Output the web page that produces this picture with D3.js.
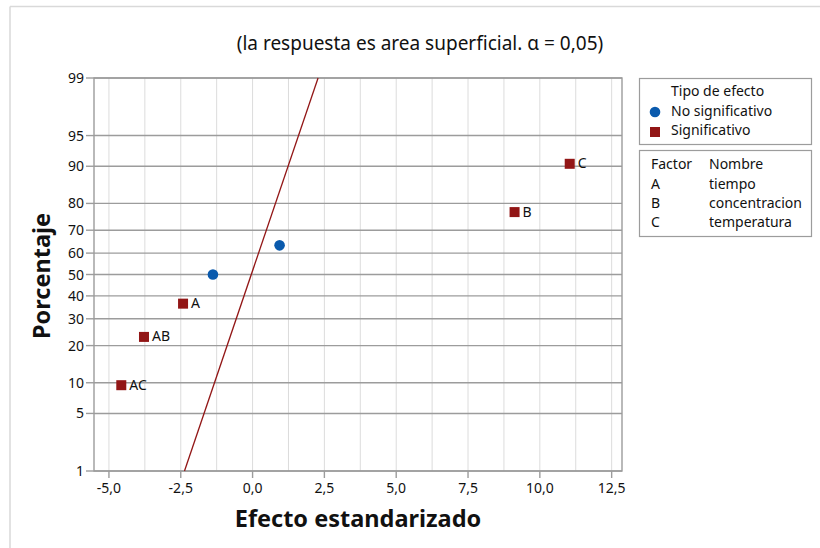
<!DOCTYPE html>
<html lang="es">
<head>
<meta charset="utf-8">
<title>Gráfica normal de efectos estandarizados</title>
<script src="https://cdn.jsdelivr.net/npm/d3@7"></script>
<style>
  body { margin: 0; background: #fff; }
  svg text { font-family: "Noto Sans", "Open Sans", sans-serif; fill: #111; }
</style>
</head>
<body>
<div id="chart"></div>
<script>
// data
const termLabels   = ["AC", "AB", "A", "", "", "B", "C"];
const effectValues = [-4.57, -3.78, -2.42, -1.38, 0.94, 9.12, 11.04];
const percentValues = [9.5, 23.0, 36.5, 50.0, 63.5, 77.0, 90.5];
const isSignificant = [true, true, true, false, false, true, true];

// fitted reference line (two ends)
const lineEffects  = [-2.37, 2.28];
const linePercents = [1, 99];

const xTicks = [-5, -2.5, 0, 2.5, 5, 7.5, 10, 12.5];
const xGrid  = [-5, -3.75, -2.5, -1.25, 0, 1.25, 2.5, 3.75, 5, 6.25, 7.5, 8.75, 10, 11.25, 12.5];
const yTicks = [1, 5, 10, 20, 30, 40, 50, 60, 70, 80, 90, 95, 99];

const factorCodes = ["A", "B", "C"];
const factorNames = ["tiempo", "concentracion", "temperatura"];

const red = "#921616", blue = "#0a5aad";

// inverse normal cdf (Acklam)
function probit(p) {
  const a = [-39.69683028665376, 220.9460984245205, -275.9285104469687, 138.3577518672690, -30.66479806614716, 2.506628277459239];
  const b = [-54.47609879822406, 161.5858368580409, -155.6989798598866, 66.80131188771972, -13.28068155288572];
  const c = [-0.007784894002430293, -0.3223964580411365, -2.400758277161838, -2.549732539343734, 4.374664141464968, 2.938163982698783];
  const d = [0.007784695709041462, 0.3224671290700398, 2.445134137142996, 3.754408661907416];
  const pl = 0.02425;
  let q, r;
  if (p < pl) {
    q = Math.sqrt(-2 * Math.log(p));
    return (((((c[0]*q+c[1])*q+c[2])*q+c[3])*q+c[4])*q+c[5]) / ((((d[0]*q+d[1])*q+d[2])*q+d[3])*q+1);
  }
  if (p > 1 - pl) {
    q = Math.sqrt(-2 * Math.log(1 - p));
    return -(((((c[0]*q+c[1])*q+c[2])*q+c[3])*q+c[4])*q+c[5]) / ((((d[0]*q+d[1])*q+d[2])*q+d[3])*q+1);
  }
  q = p - 0.5; r = q * q;
  return (((((a[0]*r+a[1])*r+a[2])*r+a[3])*r+a[4])*r+a[5])*q / (((((b[0]*r+b[1])*r+b[2])*r+b[3])*r+b[4])*r+1);
}

const W = 820, H = 548;
const plot = { left: 94, right: 622, top: 78, bottom: 471 };

const svg = d3.select("#chart").append("svg")
  .attr("width", W).attr("height", H);

// outer frame pieces visible in the crop
svg.append("line").attr("x1", 10).attr("x2", W).attr("y1", 6.5).attr("y2", 6.5)
  .attr("stroke", "#d9d9d9").attr("stroke-width", 1.5);
svg.append("line").attr("x1", 10).attr("x2", 10).attr("y1", 6.5).attr("y2", H)
  .attr("stroke", "#d9d9d9").attr("stroke-width", 1.5);

const x = d3.scaleLinear().domain([-5.52, 12.86]).range([plot.left, plot.right]);
const zScale = d3.scaleLinear().domain([probit(0.01), probit(0.99)]).range([plot.bottom, plot.top]);
const y = p => zScale(probit(p / 100));

// vertical light grid
svg.append("g").selectAll("line").data(xGrid).join("line")
  .attr("x1", d => x(d)).attr("x2", d => x(d))
  .attr("y1", plot.top).attr("y2", plot.bottom)
  .attr("stroke", "#dcdcdc").attr("stroke-width", 1);

// horizontal grid at probability ticks
svg.append("g").selectAll("line").data(yTicks).join("line")
  .attr("x1", plot.left).attr("x2", plot.right)
  .attr("y1", d => y(d)).attr("y2", d => y(d))
  .attr("stroke", "#9c9c9c").attr("stroke-width", 1.4);

// frame
svg.append("rect")
  .attr("x", plot.left).attr("y", plot.top)
  .attr("width", plot.right - plot.left).attr("height", plot.bottom - plot.top)
  .attr("fill", "none").attr("stroke", "#9c9c9c").attr("stroke-width", 1.4);

// y axis ticks & labels
const yAxis = svg.append("g");
yAxis.selectAll("line").data(yTicks).join("line")
  .attr("x1", plot.left - 8).attr("x2", plot.left)
  .attr("y1", d => y(d)).attr("y2", d => y(d))
  .attr("stroke", "#9c9c9c").attr("stroke-width", 1.4);
yAxis.selectAll("text").data(yTicks).join("text")
  .attr("x", plot.left - 10).attr("y", d => y(d) + 5)
  .attr("text-anchor", "end").attr("font-size", 14)
  .text(d => d);

// x axis ticks & labels
const fmt = d => d3.format(".1f")(d).replace(".", ",").replace("−", "-");
const xAxis = svg.append("g");
xAxis.selectAll("line").data(xTicks).join("line")
  .attr("x1", d => x(d)).attr("x2", d => x(d))
  .attr("y1", plot.bottom).attr("y2", plot.bottom + 7)
  .attr("stroke", "#9c9c9c").attr("stroke-width", 1.4);
xAxis.selectAll("text").data(xTicks).join("text")
  .attr("x", d => x(d)).attr("y", 493)
  .attr("text-anchor", "middle").attr("font-size", 14)
  .text(fmt);

// reference line
svg.append("line")
  .attr("x1", x(lineEffects[0])).attr("y1", y(linePercents[0]))
  .attr("x2", x(lineEffects[1])).attr("y2", y(linePercents[1]))
  .attr("stroke", red).attr("stroke-width", 1.3);

// points
const pts = effectValues.map((v, i) => ({ v, p: percentValues[i], sig: isSignificant[i], lab: termLabels[i] }));
const g = svg.append("g");
g.selectAll("rect").data(pts.filter(d => d.sig)).join("rect")
  .attr("x", d => x(d.v) - 5).attr("y", d => y(d.p) - 5)
  .attr("width", 10).attr("height", 10).attr("fill", red);
g.selectAll("circle").data(pts.filter(d => !d.sig)).join("circle")
  .attr("cx", d => x(d.v)).attr("cy", d => y(d.p)).attr("r", 5.3).attr("fill", blue);
g.selectAll("text").data(pts.filter(d => d.lab)).join("text")
  .attr("x", d => x(d.v) + 8).attr("y", d => y(d.p) + 4.5)
  .attr("font-size", 14).text(d => d.lab);

// titles
svg.append("text").attr("x", 420).attr("y", 50).attr("text-anchor", "middle")
  .attr("font-size", 19).text("(la respuesta es area superficial. α = 0,05)");
svg.append("text").attr("x", 358).attr("y", 527).attr("text-anchor", "middle")
  .attr("font-size", 23.5).attr("font-weight", "bold").text("Efecto estandarizado");
svg.append("text").attr("transform", "translate(50,276) rotate(-90)")
  .attr("text-anchor", "middle").attr("font-size", 23.5).attr("font-weight", "bold")
  .text("Porcentaje");

// legend 1
const lg = svg.append("g");
lg.append("rect").attr("x", 639.5).attr("y", 78.5).attr("width", 172).attr("height", 66)
  .attr("fill", "#fff").attr("stroke", "#9c9c9c").attr("stroke-width", 1.2);
lg.append("text").attr("x", 671).attr("y", 96).attr("font-size", 14).text("Tipo de efecto");
lg.append("circle").attr("cx", 655).attr("cy", 112).attr("r", 5.3).attr("fill", blue);
lg.append("text").attr("x", 671).attr("y", 116).attr("font-size", 14).text("No significativo");
lg.append("rect").attr("x", 650).attr("y", 127).attr("width", 10).attr("height", 10).attr("fill", red);
lg.append("text").attr("x", 671).attr("y", 135).attr("font-size", 14).text("Significativo");

// legend 2: factor table
const ft = svg.append("g");
ft.append("rect").attr("x", 639.5).attr("y", 150.5).attr("width", 172).attr("height", 86)
  .attr("fill", "#fff").attr("stroke", "#9c9c9c").attr("stroke-width", 1.2);
ft.append("text").attr("x", 651).attr("y", 169).attr("font-size", 14).text("Factor");
ft.append("text").attr("x", 709).attr("y", 169).attr("font-size", 14).text("Nombre");
ft.selectAll("text.code").data(factorCodes).join("text").attr("class", "code")
  .attr("x", 651).attr("y", (d, i) => 189 + i * 19).attr("font-size", 14).text(d => d);
ft.selectAll("text.name").data(factorNames).join("text").attr("class", "name")
  .attr("x", 709).attr("y", (d, i) => 189 + i * 19).attr("font-size", 14).text(d => d);
</script>
</body>
</html>
